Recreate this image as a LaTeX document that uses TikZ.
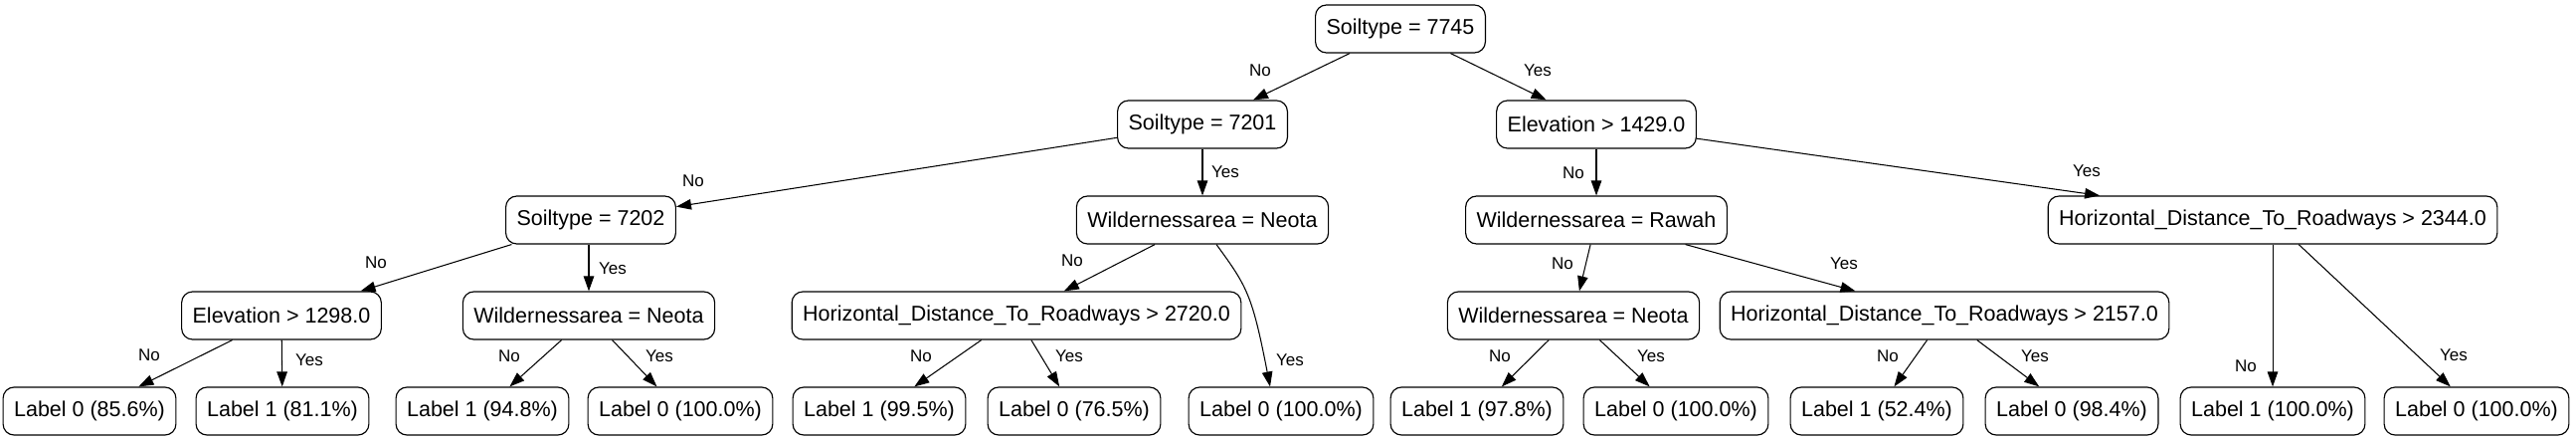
\documentclass[tikz,border=0pt]{standalone}
\usepackage{fontspec}
\setmainfont{Liberation Sans}
\usetikzlibrary{arrows.meta}
\begin{document}
\begin{tikzpicture}[x=1pt,y=-1pt,
  box/.style={draw, line width=1.15pt, rounded corners=11pt, minimum height=48pt,
    inner xsep=11pt, inner ysep=0pt, font=\fontsize{21.5}{25}\selectfont},
  edge/.style={line width=1.05pt, -{Triangle[length=15pt,width=10.5pt]}},
  lab/.style={font=\fontsize{17}{20}\selectfont, inner sep=0pt}]
\useasboundingbox (0,0) rectangle (2590,443);
% level 0
\node[box] (root) at (1408,29) {Soiltype = 7745};
% level 1
\node[box] (s7201) at (1209,125) {Soiltype = 7201};
\node[box] (e1429) at (1605,125) {Elevation > 1429.0};
% level 2
\node[box] (s7202) at (594,221) {Soiltype = 7202};
\node[box] (wn1) at (1209,221) {Wildernessarea = Neota};
\node[box] (wr) at (1605,221) {Wildernessarea = Rawah};
\node[box] (h2344) at (2285,221) {Horizontal\_Distance\_To\_Roadways > 2344.0};
% level 3
\node[box] (e1298) at (283,317) {Elevation > 1298.0};
\node[box] (wn2) at (592,317) {Wildernessarea = Neota};
\node[box] (h2720) at (1022,317) {Horizontal\_Distance\_To\_Roadways > 2720.0};
\node[box] (wn3) at (1582,317) {Wildernessarea = Neota};
\node[box] (h2157) at (1955,317) {Horizontal\_Distance\_To\_Roadways > 2157.0};
% leaves
\node[box] (l1) at (90,413) {Label 0 (85.6\%)};
\node[box] (l2) at (284,413) {Label 1 (81.1\%)};
\node[box] (l3) at (485,413) {Label 1 (94.8\%)};
\node[box] (l4) at (684,413) {Label 0 (100.0\%)};
\node[box] (l5) at (884,413) {Label 1 (99.5\%)};
\node[box] (l6) at (1080,413) {Label 0 (76.5\%)};
\node[box] (l7) at (1288,413) {Label 0 (100.0\%)};
\node[box] (l8) at (1485,413) {Label 1 (97.8\%)};
\node[box] (l9) at (1685,413) {Label 0 (100.0\%)};
\node[box] (l10) at (1887,413) {Label 1 (52.4\%)};
\node[box] (l11) at (2083,413) {Label 0 (98.4\%)};
\node[box] (l12) at (2285,413) {Label 1 (100.0\%)};
\node[box] (l13) at (2490,413) {Label 0 (100.0\%)};
% edges
\draw[edge] (root) -- (s7201);
\draw[edge] (root) -- (e1429);
\draw[edge] (s7201) -- (s7202);
\draw[edge] (s7201) -- (wn1);
\draw[edge] (e1429) -- (wr);
\draw[edge] (e1429) -- (h2344);
\draw[edge] (s7202) -- (e1298);
\draw[edge] (s7202.south -| wn2.north) -- (wn2);
\draw[edge] (wn1) -- (h2720);
\draw[edge] ([xshift=14pt]wn1.south) .. controls (1254,288) and (1259,296) .. ([xshift=-11pt]l7.north);
\draw[edge] (wr) -- (wn3);
\draw[edge] (wr) -- (h2157);
\draw[edge] (h2344) -- (l12);
\draw[edge] (h2344) -- (l13);
\draw[edge] (e1298) -- (l1);
\draw[edge] (e1298) -- (l2);
\draw[edge] (wn2) -- (l3);
\draw[edge] (wn2) -- (l4);
\draw[edge] (h2720) -- (l5);
\draw[edge] (h2720) -- (l6);
\draw[edge] (wn3) -- (l8);
\draw[edge] (wn3) -- (l9);
\draw[edge] (h2157) -- (l10);
\draw[edge] (h2157) -- (l11);
% edge labels
\node[lab] (t1) at (1267,71) {No};
\node[lab] (t2) at (1546,71) {Yes};
\node[lab] (t3) at (697,182) {No};
\node[lab] (t4) at (1232,173) {Yes};
\node[lab] (t5) at (1582,174) {No};
\node[lab] (t6) at (2098,172) {Yes};
\node[lab] (t7) at (378,264) {No};
\node[lab] (t8) at (616,270) {Yes};
\node[lab] (t9) at (1078,262) {No};
\node[lab] (t10) at (1297,362) {Yes};
\node[lab] (t11) at (1571,265) {No};
\node[lab] (t12) at (1854,265) {Yes};
\node[lab] (t13) at (2258,368) {No};
\node[lab] (t14) at (2467,357) {Yes};
\node[lab] (t15) at (150,357) {No};
\node[lab] (t16) at (311,362) {Yes};
\node[lab] (t17) at (512,358) {No};
\node[lab] (t18) at (663,358) {Yes};
\node[lab] (t19) at (926,358) {No};
\node[lab] (t20) at (1075,358) {Yes};
\node[lab] (t21) at (1508,358) {No};
\node[lab] (t22) at (1660,358) {Yes};
\node[lab] (t23) at (1898,358) {No};
\node[lab] (t24) at (2046,358) {Yes};
\end{tikzpicture}
\end{document}
